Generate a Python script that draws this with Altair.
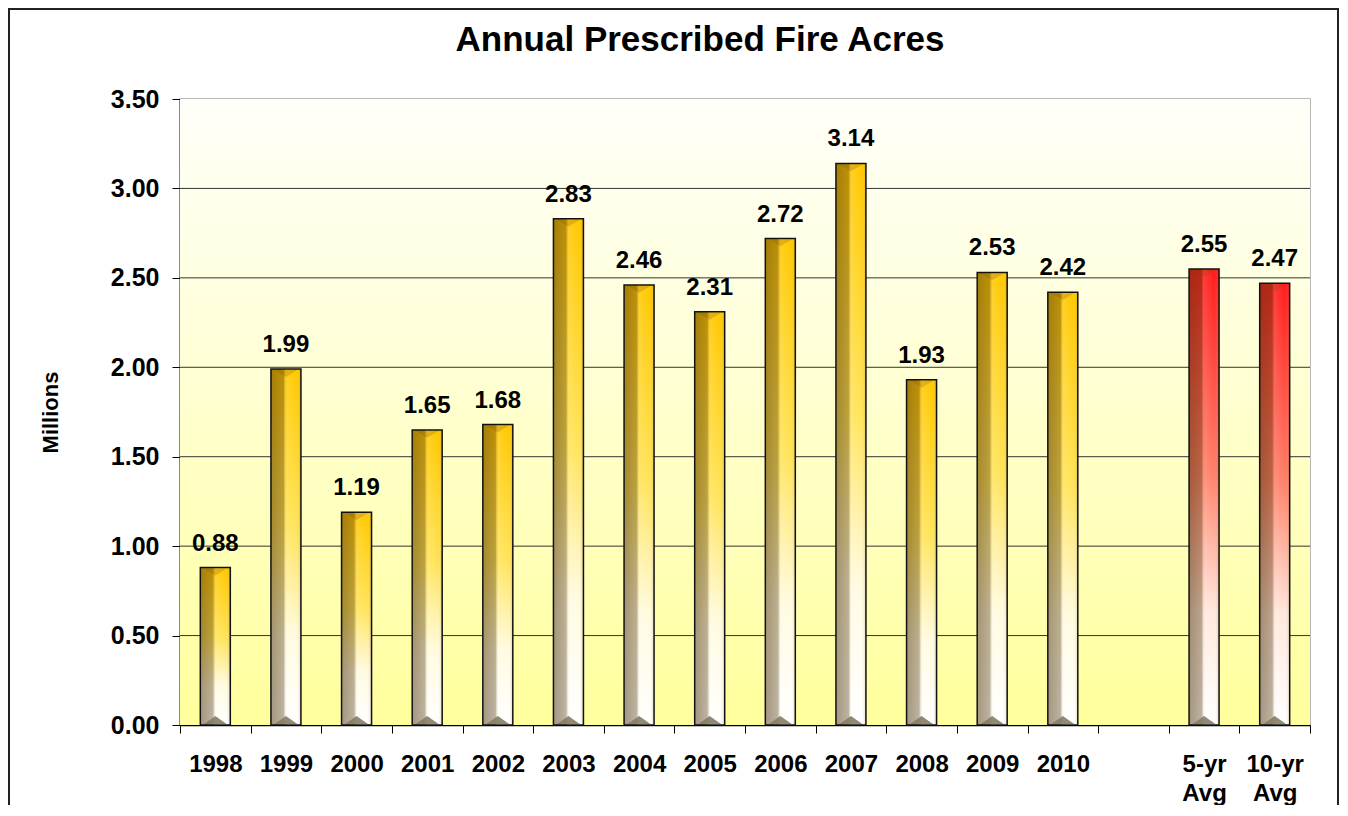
import altair as alt
import pandas as pd

categories = ["1998", "1999", "2000", "2001", "2002", "2003", "2004", "2005",
              "2006", "2007", "2008", "2009", "2010", "5-yr Avg", "10-yr Avg"]
values = [0.88, 1.99, 1.19, 1.65, 1.68, 2.83, 2.46, 2.31, 2.72, 3.14, 1.93,
          2.53, 2.42, 2.55, 2.47]
groups = ["year"] * 13 + ["avg"] * 2
x_domain = categories[:13] + ["gap"] + categories[13:]
grid_values = [0.5, 1.0, 1.5, 2.0, 2.5, 3.0]
y_ticks = [0, 0.5, 1.0, 1.5, 2.0, 2.5, 3.0, 3.5]
title_text = ["Annual Prescribed Fire Acres"]

FONT = "Liberation Sans"
W, H = 1130, 626

df = pd.DataFrame({"cat": categories, "val": values, "grp": groups})
grid_df = pd.DataFrame({"val": grid_values})
one = pd.DataFrame({"t": title_text})

x_enc = alt.X("cat:N", scale=alt.Scale(domain=x_domain, paddingInner=0, paddingOuter=0),
              axis=alt.Axis(title=None, labelExpr="datum.label == 'gap' ? '' : split(datum.label, ' ')",
                            labelFont=FONT, labelFontSize=24, labelFontWeight="bold",
                            labelColor="#000", labelAngle=0, labelPadding=19,
                            labelLineHeight=29, tickBand="extent", tickSize=8,
                            tickColor="#000", domainColor="#000", domainWidth=1.5,
                            ticks=True))
y_scale = alt.Scale(domain=[0, 3.5], nice=False)
y_axis = alt.Axis(title="Millions", values=y_ticks, format=".2f", grid=False,
                  labelFont=FONT, labelFontSize=25, labelFontWeight="bold",
                  labelColor="#000", labelPadding=13, tickSize=8,
                  tickColor="#000", domainColor="#000", domainWidth=1.5,
                  titleFont=FONT, titleFontSize=22, titleFontWeight="bold",
                  titleColor="#000", titleX=-130, titleY=H / 2,
                  titleAngle=270, titleBaseline="middle", titleAlign="center")
y_enc = alt.Y("val:Q", scale=y_scale, axis=y_axis)


def grad_v(top, mid, low, bottom):
    return alt.Gradient(gradient="linear", x1=0, x2=0, y1=0, y2=1,
                        stops=[alt.GradientStop(color=top, offset=0),
                               alt.GradientStop(color=mid, offset=0.45),
                               alt.GradientStop(color=low, offset=0.75),
                               alt.GradientStop(color=bottom, offset=1)])


overlay = alt.Gradient(gradient="linear", x1=0, x2=1, y1=0, y2=0,
                       stops=[alt.GradientStop(color="rgba(80,55,15,0.52)", offset=0),
                              alt.GradientStop(color="rgba(80,55,15,0.38)", offset=0.42),
                              alt.GradientStop(color="rgba(255,255,255,0.12)", offset=0.52),
                              alt.GradientStop(color="rgba(255,255,255,0.0)", offset=0.85),
                              alt.GradientStop(color="rgba(110,75,0,0.22)", offset=1)])

bg = alt.Chart(one).mark_rect(
    fill=alt.Gradient(gradient="linear", x1=0, x2=0, y1=0, y2=1,
                      stops=[alt.GradientStop(color="#FFFFFA", offset=0),
                             alt.GradientStop(color="#FFFFD8", offset=0.4),
                             alt.GradientStop(color="#FFFF9C", offset=1)])
).encode(x=alt.value(0), x2=alt.value(W), y=alt.value(0), y2=alt.value(H))

grid = alt.Chart(grid_df).mark_rule(color="#333", strokeWidth=1).encode(y=y_enc)

base = alt.Chart(df)
bars_year = base.transform_filter("datum.grp == 'year'").mark_bar(
    size=30, fill=grad_v("#FFC800", "#FFE45A", "#FFFBE0", "#FFFFFF")).encode(x=x_enc, y=y_enc)
bars_avg = base.transform_filter("datum.grp == 'avg'").mark_bar(
    size=30, fill=grad_v("#FF1A1A", "#FF8068", "#FFE8DC", "#FFFFFF")).encode(x=x_enc, y=y_enc)
bars_over = base.mark_bar(size=30, fill=overlay, stroke="#111", strokeWidth=1.5).encode(
    x=x_enc, y=y_enc)

bottom_tri = base.mark_point(shape="M-1,0L1,0L0,-0.7Z", size=520, filled=True,
                             fill="#857C62", opacity=0.9, strokeWidth=0, yOffset=-1).encode(
    x=x_enc, y=alt.datum(0))
top_tri = base.mark_point(shape="M-1,0L1,0L0,0.6Z", size=520, filled=True,
                          fill="#7A4A00", opacity=0.22, strokeWidth=0, yOffset=1).encode(
    x=x_enc, y=y_enc)

labels = base.mark_text(dy=-17, baseline="alphabetic", font=FONT, fontSize=24,
                        fontWeight="bold", color="#000").encode(
    x=x_enc, y=y_enc, text=alt.Text("val:Q", format=".2f"))

title = alt.Chart(one).mark_text(baseline="alphabetic", align="center", font=FONT,
                                 fontSize=35, fontWeight="bold", color="#000").encode(
    x=alt.value(520), y=alt.value(-48), text="t:N")

frame = alt.Chart(one).mark_rect(fill=None, stroke="#222", strokeWidth=2).encode(
    x=alt.value(-171), x2=alt.value(1158), y=alt.value(-90), y2=alt.value(740))

chart = alt.layer(bg, grid, bars_year, bars_avg, bars_over, bottom_tri, top_tri, labels,
                  title, frame).properties(
    width=W, height=H,
    autosize=alt.AutoSizeParams(type="none"),
    padding={"left": 172, "top": 91, "right": 30, "bottom": 80},
    background="white",
).configure_view(stroke="#A0A0A0", strokeWidth=1.5)

chart.save("out.html", embed_options={"renderer": "svg", "actions": False})
